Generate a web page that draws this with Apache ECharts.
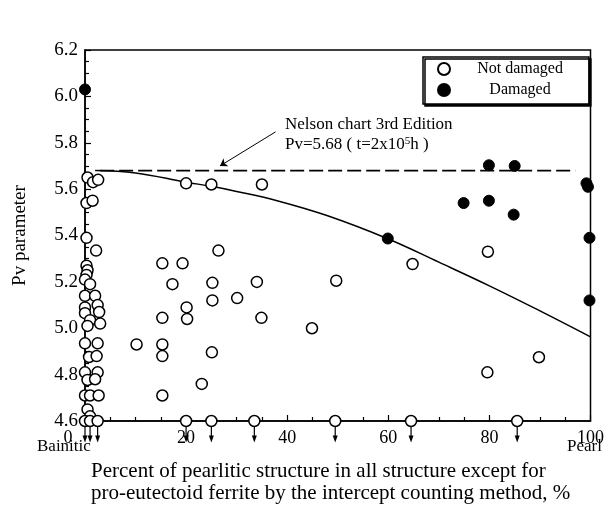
<!DOCTYPE html>
<html><head><meta charset="utf-8">
<script src="https://cdn.jsdelivr.net/npm/echarts@6/dist/echarts.min.js"></script>
<style>html,body{margin:0;padding:0;background:#fff}#c{width:607px;height:513px}</style>
</head><body><div id="c"></div>
<script>
// ---- data ----
const yTickLabels = ['4.6','4.8','5.0','5.2','5.4','5.6','5.8','6.0','6.2'];
const xTickLabels = ['0','20','40','60','80','100'];

const notDamagedX = [0.5,1.6,2.6, 0.3,1.5, 0.3,2.2,
  0.3,0.5,0.3,0,1.0, 0,2,0,2.5,0,2.8,1,3,0.5, 0,2.5,0.8,2.3,0,2.5,0.5,2,0,1,2.7,0.5,1,
  20,25,35, 26.4,15.3,19.3,17.3,25.2,34,49.7,25.2,30.1,20.1,15.3,20.2,34.9,44.9,10.2,15.3,15.3,25.1,23.1,15.3,
  64.8,79.7,89.8,79.6];
const notDamagedY = [5.65,5.63,5.64, 5.54,5.55, 5.39,5.335,
  5.27,5.25,5.23,5.21,5.19, 5.14,5.14,5.09,5.10,5.065,5.07,5.035,5.02,5.01, 4.935,4.935,4.876,4.88,4.81,4.81,4.777,4.78,4.71,4.71,4.71,4.65,4.62,
  5.625,5.62,5.62, 5.335,5.28,5.28,5.19,5.196,5.20,5.205,5.12,5.13,5.09,5.045,5.04,5.045,5.0,4.93,4.93,4.88,4.896,4.76,4.71,
  5.277,5.33,4.875,4.81];

const damagedX = [0, 59.9, 74.9, 79.9, 84.8, 79.9, 85, 99.2, 99.5, 99.8, 99.8];
const damagedY = [6.03, 5.387, 5.54, 5.55, 5.49, 5.703, 5.70, 5.625, 5.61, 5.39, 5.12];

// points below the axis range (marked with down arrows at Pv = 4.6)
const belowX = [0, 1, 2.5, 20, 25, 33.5, 49.5, 64.5, 85.5];
const belowY = [4.6, 4.6, 4.6, 4.6, 4.6, 4.6, 4.6, 4.6, 4.6];

// trend curve
const curveX = [2, 10, 20, 25, 30, 38, 48, 60, 70, 80, 90, 100];
const curveY = [5.68, 5.67, 5.63, 5.612, 5.59, 5.55, 5.485, 5.385, 5.285, 5.183, 5.075, 4.963];

// Nelson chart level
const nelsonX = [3, 97];
const nelsonY = [5.68, 5.68];
const arrowFrom = [37.7, 5.847];
const arrowTo = [26.7, 5.70];

const zip = (a, b) => a.map((v, i) => [v, b[i]]);
const F = 'Liberation Serif';

const chart = echarts.init(document.getElementById('c'));
chart.setOption({
  animation: false,
  textStyle: { fontFamily: F },
  grid: { left: 85, right: 10, top: 50, bottom: 92, show: true, borderColor: '#000', borderWidth: 1.5 },
  xAxis: {
    type: 'value', min: 0, max: 100, interval: 20,
    axisLine: { lineStyle: { color: '#000', width: 1.5 } },
    axisTick: { inside: true, length: 6, lineStyle: { color: '#000', width: 1.2 } },
    minorTick: { show: true, splitNumber: 4, length: 4, lineStyle: { color: '#000', width: 1.2 } },
    splitLine: { show: false },
    axisLabel: {
      color: '#000', fontSize: 18, fontFamily: F, margin: 8,
      formatter: (v) => { const i = Math.round(v / 20); const t = xTickLabels[i]; return i === 0 ? '{z|' + t + '}' : t; },
      rich: { z: { padding: [0, 34, 0, 0], fontSize: 18, fontFamily: F, color: '#000' } }
    }
  },
  yAxis: {
    type: 'value', min: 4.6, max: 6.2, interval: 0.2,
    name: 'Pv parameter', nameLocation: 'middle', nameGap: 55,
    nameTextStyle: { fontSize: 19, fontFamily: F, color: '#000' },
    axisLine: { show: true, lineStyle: { color: '#000', width: 1.5 } },
    axisTick: { show: true, inside: true, length: 6, lineStyle: { color: '#000', width: 1.2 } },
    minorTick: { show: true, splitNumber: 4, length: 4, lineStyle: { color: '#000', width: 1.2 } },
    splitLine: { show: false },
    axisLabel: {
      color: '#000', fontSize: 19, fontFamily: F, margin: 7,
      formatter: (v) => yTickLabels[Math.round((v - 4.6) / 0.2)]
    }
  },
  legend: {
    data: ['Not damaged', 'Damaged'],
    orient: 'vertical', left: 423, top: 57,
    backgroundColor: '#fff', borderColor: '#000', borderWidth: 1.5, borderRadius: 0,
    shadowColor: '#000', shadowOffsetX: 2, shadowOffsetY: 2, shadowBlur: 0,
    padding: [4, 26, 6, 14], itemWidth: 12, itemHeight: 12, itemGap: 5,
    formatter: (n) => '{a|' + n + '}',
    textStyle: { rich: { a: { width: 130, align: 'center', fontSize: 16, fontFamily: F, color: '#000' } } }
  },
  series: [
    {
      name: 'curve', type: 'line', data: zip(curveX, curveY), smooth: 0.4, symbol: 'none',
      lineStyle: { color: '#000', width: 1.5 }, z: 2, silent: true
    },
    {
      name: 'nelson', type: 'line', data: zip(nelsonX, nelsonY), symbol: 'none',
      lineStyle: { color: '#000', width: 1.6, type: [14, 5] }, z: 2, silent: true,
      markLine: {
        silent: true, symbolSize: 7, animation: false,
        lineStyle: { color: '#000', width: 1, type: 'solid' }, label: { show: false },
        data: [[{ coord: arrowFrom, symbol: 'none' }, { coord: arrowTo, symbol: 'arrow' }]]
      }
    },
    {
      name: 'Not damaged', type: 'scatter', data: zip(notDamagedX, notDamagedY), symbol: 'circle', symbolSize: 11,
      itemStyle: { color: '#fff', borderColor: '#000', borderWidth: 1.5, opacity: 1 }, clip: false, z: 4
    },
    {
      name: 'Damaged', type: 'scatter', data: zip(damagedX, damagedY), symbol: 'circle', symbolSize: 11,
      itemStyle: { color: '#000', borderColor: '#000', borderWidth: 1, opacity: 1 }, clip: false, z: 5
    },
    {
      name: 'below', type: 'custom', data: zip(belowX, belowY), clip: false, z: 6, silent: true,
      renderItem: (params, api) => {
        const p = api.coord([api.value(0), api.value(1)]);
        const r = 5.5;
        return {
          type: 'group', children: [
            { type: 'line', shape: { x1: p[0], y1: p[1] + r, x2: p[0], y2: p[1] + r + 12 }, style: { stroke: '#000', lineWidth: 1.2 } },
            { type: 'polygon', shape: { points: [[p[0] - 2.5, p[1] + r + 9], [p[0] + 2.5, p[1] + r + 9], [p[0], p[1] + r + 16]] }, style: { fill: '#000' } },
            { type: 'circle', shape: { cx: p[0], cy: p[1], r: r }, style: { fill: '#fff', stroke: '#000', lineWidth: 1.5 } }
          ]
        };
      }
    }
  ],
  graphic: [
    { type: 'text', left: 285, top: 116, style: { text: 'Nelson chart 3rd Edition', font: '17px "Liberation Serif"', fill: '#000' } },
    { type: 'text', left: 285, top: 136, style: { text: 'Pv=5.68 ( t=2x10{s|5}h )', font: '17px "Liberation Serif"', fill: '#000',
        rich: { s: { fontSize: 11, fontFamily: F, verticalAlign: 'top', padding: [0, 0, 6, 0] } } } },
    { type: 'text', left: 37, top: 438, style: { text: 'Bainitic', font: '17px "Liberation Serif"', fill: '#000' } },
    { type: 'text', left: 567, top: 438, style: { text: 'Pearl', font: '17px "Liberation Serif"', fill: '#000' } },
    { type: 'text', left: 91, top: 461, style: { text: 'Percent of pearlitic structure in all structure except for', font: '21px "Liberation Serif"', fill: '#000' } },
    { type: 'text', left: 91, top: 483, style: { text: 'pro-eutectoid ferrite by the intercept counting method, %', font: '21px "Liberation Serif"', fill: '#000' } }
  ]
});
</script>
</body></html>
